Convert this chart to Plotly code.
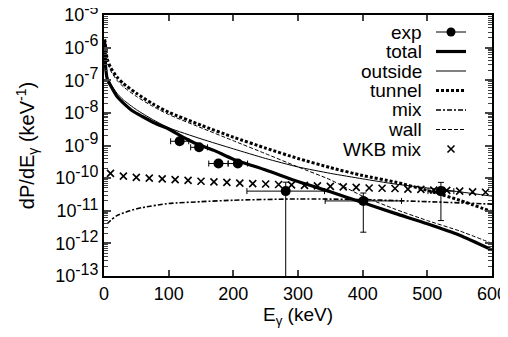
import plotly.graph_objects as go

# ---- data ----
E_total = [1, 2, 3, 5, 10, 20, 30, 45, 60, 80, 100, 120, 140, 170, 200, 250, 300, 350, 400, 450, 500, 550, 600]
total = [1.6e-6, 4.0e-7, 2.0e-7, 1.1e-7, 7.0e-8, 3.2e-8, 2.0e-8, 1.12e-8, 7.6e-9, 4.7e-9, 3.2e-9,
         1.9e-9, 1.2e-9, 7.1e-10, 3.8e-10, 1.78e-10, 7.9e-11, 3.8e-11, 1.78e-11, 8.3e-12, 4.0e-12, 1.78e-12, 6.3e-13]

E_curve = [1, 2, 5, 10, 20, 30, 50, 75, 100, 150, 200, 250, 300, 350, 400, 450, 500, 550, 600]
outside = [1.6e-6, 5.0e-7, 1.3e-7, 7.9e-8, 4.0e-8, 2.5e-8, 1.26e-8, 6.3e-9, 3.5e-9, 1.6e-9, 7.9e-10,
           4.0e-10, 2.2e-10, 1.4e-10, 9.5e-11, 6.6e-11, 5.0e-11, 3.8e-11, 2.8e-11]
tunnel = [1.8e-6, 1.26e-6, 4.5e-7, 2.5e-7, 1.26e-7, 7.9e-8, 4.0e-8, 1.9e-8, 1.05e-8, 4.2e-9, 1.8e-9,
          8.3e-10, 4.0e-10, 2.1e-10, 1.2e-10, 7.6e-11, 4.2e-11, 2.1e-11, 9.3e-12]
wall = [1.7e-6, 1.0e-6, 4.0e-7, 2.0e-7, 1.0e-7, 6.3e-8, 3.2e-8, 1.6e-8, 8.9e-9, 3.5e-9, 1.4e-9,
        5.6e-10, 2.2e-10, 8.9e-11, 2.8e-11, 1.12e-11, 5.0e-12, 2.4e-12, 1.0e-12]

E_mix = [5, 10, 20, 40, 60, 100, 150, 200, 300, 400, 500, 600]
mix = [4.0e-12, 5.0e-12, 7.1e-12, 1.0e-11, 1.26e-11, 1.66e-11, 1.9e-11, 2.1e-11, 2.3e-11, 2.2e-11, 1.9e-11, 1.6e-11]

E_wkb = [10, 30, 50, 70, 90, 110, 130, 150, 170, 190, 210, 230, 250, 270, 290, 310, 330, 350, 370, 390,
         410, 430, 450, 470, 490, 510, 530, 550, 570, 590]
wkb = [1.4e-10, 1.15e-10, 1.05e-10, 1.0e-10, 9.5e-11, 9.0e-11, 8.5e-11, 8.0e-11, 7.7e-11, 7.4e-11,
       7.0e-11, 6.8e-11, 6.6e-11, 6.4e-11, 6.2e-11, 6.0e-11, 5.8e-11, 5.6e-11, 5.4e-11, 5.2e-11,
       5.0e-11, 4.9e-11, 4.8e-11, 4.6e-11, 4.5e-11, 4.3e-11, 4.2e-11, 4.0e-11, 3.8e-11, 3.7e-11]

E_exp = [117, 147, 177, 207, 281, 401, 521]
exp_val = [1.35e-9, 8.8e-10, 2.8e-10, 2.8e-10, 4.0e-11, 2.0e-11, 4.0e-11]
exp_xerr = [14, 13, 15, 15, 60, 59, 20]
exp_yerr_plus = [0, 0, 0, 0, 3.5e-11, 1.5e-11, 3.4e-11]
exp_yerr_minus = [0, 0, 0, 0, 3.999e-11, 1.78e-11, 3.5e-11]

legend_labels = ["exp", "total", "outside", "tunnel", "mix", "wall", "WKB mix"]
ytick_exps = [-5, -6, -7, -8, -9, -10, -11, -12, -13]

# ---- figure ----
FONT = "Liberation Sans, Arial, Helvetica, sans-serif"
OFF = 8  # the page body has an 8px margin, so the figure starts 8px in from the window corner
W, H = 508 - OFF, 337 - OFF
PLOT_L, PLOT_R, PLOT_T, PLOT_B = 104 - OFF, 492 - OFF, 15 - OFF, 276 - OFF
row_px = [32, 51.5, 71, 90.5, 110, 129.5, 149]  # legend rows (window pixels)
legend_ids = ["legend", "legend2", "legend3", "legend4", "legend5", "legend6", "legend7"]


def px_x(px):
    return (px - OFF - PLOT_L) / (PLOT_R - PLOT_L)


def px_y(py):
    return (PLOT_B - (py - OFF)) / (PLOT_B - PLOT_T)


fig = go.Figure()

fig.add_trace(go.Scatter(
    x=E_exp, y=exp_val, mode="markers", name=" ", showlegend=False,
    marker=dict(symbol="circle", size=10, color="black"),
    error_x=dict(type="data", array=exp_xerr, color="black", thickness=1, width=3),
    error_y=dict(type="data", symmetric=False, array=exp_yerr_plus, arrayminus=exp_yerr_minus,
                 color="black", thickness=1, width=3),
))
# legend key for "exp" (point with its error bar line, gnuplot style); it draws nothing in the plot
fig.add_trace(go.Scatter(x=[None], y=[None], mode="lines+markers", name=" ", legend=legend_ids[0],
                         line=dict(color="black", width=1), marker=dict(symbol="circle", size=9, color="black")))
fig.add_trace(go.Scatter(x=E_total, y=total, mode="lines", name=" ", legend=legend_ids[1],
                         line=dict(color="black", width=3.2, shape="spline", smoothing=0.6)))
fig.add_trace(go.Scatter(x=E_curve, y=outside, mode="lines", name=" ", legend=legend_ids[2],
                         line=dict(color="black", width=1, shape="spline", smoothing=0.6)))
fig.add_trace(go.Scatter(x=E_curve, y=tunnel, mode="lines", name=" ", legend=legend_ids[3],
                         line=dict(color="black", width=3, dash="3px,2px", shape="spline", smoothing=0.6)))
fig.add_trace(go.Scatter(x=E_mix, y=mix, mode="lines", name=" ", legend=legend_ids[4],
                         line=dict(color="black", width=1.6, dash="5px,2px,2px,2px", shape="spline", smoothing=0.6)))
fig.add_trace(go.Scatter(x=E_curve, y=wall, mode="lines", name=" ", legend=legend_ids[5],
                         line=dict(color="black", width=1, dash="4px,2px", shape="spline", smoothing=0.6)))
fig.add_trace(go.Scatter(x=E_wkb, y=wkb, mode="markers", name=" ", legend=legend_ids[6],
                         marker=dict(symbol="x-thin", size=7, color="black",
                                     line=dict(color="black", width=1.6))))

# legend text (right aligned, left of the samples, like the original)
for lab, py in zip(legend_labels, row_px):
    fig.add_annotation(
        x=px_x(424), y=px_y(py), xref="paper", yref="paper", text=lab, showarrow=False,
        xanchor="right", yanchor="middle", font=dict(family=FONT, size=19, color="black"))

legends = {}
for lid, py in zip(legend_ids, row_px):
    legends[lid] = dict(x=px_x(431), y=px_y(py), xanchor="left", yanchor="middle",
                        bgcolor="rgba(0,0,0,0)", font=dict(family=FONT, size=12),
                        itemwidth=30, borderwidth=0)

fig.update_layout(
    width=W, height=H,
    margin=dict(l=PLOT_L, r=W - PLOT_R, t=PLOT_T, b=H - PLOT_B, autoexpand=False),
    paper_bgcolor="white", plot_bgcolor="white",
    font=dict(family=FONT, size=18, color="black"),
    showlegend=True,
    xaxis=dict(range=[0, 600], dtick=100, tick0=0, ticks="inside", ticklen=6, tickwidth=1.5,
               showline=True, linewidth=2, linecolor="black", mirror="ticks", showgrid=False,
               zeroline=False, tickfont=dict(size=18), automargin=False, ticklabeloverflow="allow",
               title=dict(text="E<sub>γ</sub> (keV)", font=dict(size=19), standoff=2)),
    yaxis=dict(type="log", range=[-13, -5],
               tickmode="array", tickvals=[10.0 ** k for k in ytick_exps],
               ticktext=["10<sup><span style='font-size:16px'>%d</span></sup>" % k for k in ytick_exps],
               ticks="inside", ticklen=7, tickwidth=1.5,
               minor=dict(ticks="inside", ticklen=4, tickwidth=1, dtick="D1", showgrid=False),
               showline=True, linewidth=2, linecolor="black", mirror="ticks", showgrid=False,
               zeroline=False, tickfont=dict(size=18), automargin=False, ticklabeloverflow="allow",
               title=dict(text="dP/dE<sub>γ</sub> (keV<sup>-1</sup>)", font=dict(size=20))),
    **legends,
)

fig.write_html("out.html")
